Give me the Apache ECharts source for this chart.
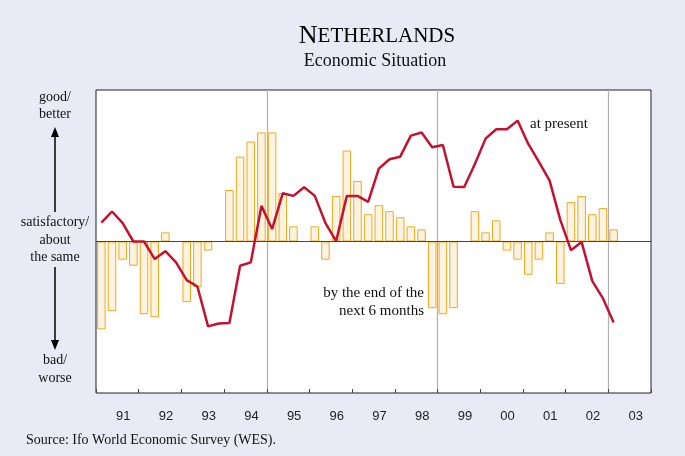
<!DOCTYPE html>
<html><head><meta charset="utf-8">
<script src="https://cdn.jsdelivr.net/npm/echarts@6/dist/echarts.min.js"></script>
<style>html,body{margin:0;padding:0;background:#E8EBF6;}#c{width:685px;height:456px;}</style>
</head><body><div id="c"></div>
<script>
// Quarterly categories 1991Q1 .. 2003Q4
var years = ['91','92','93','94','95','96','97','98','99','00','01','02','03'];
var quarters = [];
years.forEach(function(y){ for (var q=1;q<=4;q++) quarters.push(y+'Q'+q); });

// Expectations: by the end of the next 6 months (bars)
var expectations = [-58,-46,-12,-16,-48,-50,6,null,-40,-30,-6,null,
  34,56,66,72,72,32,10,null,10,-12,30,60,
  40,18,24,20,16,10,8,-44,-48,-44,null,20,
  6,14,-6,-12,-22,-12,6,-28,26,30,18,22,
  8];
// Present situation (line)
var present = [12.5,19.8,12.1,0,0,-11.6,-6.4,-13.8,-25.5,-29.7,-56,-54.1,
  -53.8,-16,-13.8,23.5,8.2,31.9,30.1,35.8,30.1,12.1,0.2,30.1,
  30.1,26.2,48.1,54.3,56,69.9,71.9,62.2,63.7,36.1,36,51.2,
  67.9,74.1,74.1,79.8,64.4,52.5,40.2,14.3,-5.7,-0.4,-26.2,-37.6,
  -53.4];

var serif = '"Liberation Serif","DejaVu Serif",serif';
var chart = echarts.init(document.getElementById('c'));
var G = {left:96, top:90, width:555, height:303};

function arrowUp(x, yTip, yEnd){
  return [
    {type:'line', shape:{x1:x,y1:yTip+8,x2:x,y2:yEnd}, style:{stroke:'#000',lineWidth:1.5}},
    {type:'polygon', shape:{points:[[x,yTip],[x-4,yTip+10],[x+4,yTip+10]]}, style:{fill:'#000'}}
  ];
}
function arrowDown(x, yStart, yTip){
  return [
    {type:'line', shape:{x1:x,y1:yStart,x2:x,y2:yTip-8}, style:{stroke:'#000',lineWidth:1.5}},
    {type:'polygon', shape:{points:[[x,yTip],[x-4,yTip-10],[x+4,yTip-10]]}, style:{fill:'#000'}}
  ];
}
function label(text, x, y, align, size){
  return {type:'text', x:x, y:y, style:{text:text, fill:'#111', font: (size||14)+'px '+serif, textAlign:align||'center', textVerticalAlign:'middle'}};
}

var graphics = [
  {type:'text', x:377, y:36, style:{
     rich:{a:{fontSize:26,fontFamily:serif,fill:'#000'}, b:{fontSize:21,fontFamily:serif,fill:'#000'}},
     text:'{a|N}{b|ETHERLANDS}', textAlign:'center', textVerticalAlign:'middle'}},
  label('Economic Situation', 375, 61, 'center', 18),
  label('good/', 55, 97), label('better', 55, 114),
  label('satisfactory/', 55, 222), label('about', 55, 240), label('the same', 55, 257),
  label('bad/', 55, 360), label('worse', 55, 378),
  label('at present', 530, 124, 'left', 15),
  label('by the end of the', 424, 293, 'right', 15),
  label('next 6 months', 424, 311, 'right', 15),
  label('Source: Ifo World Economic Survey (WES).', 26, 440, 'left', 14)
].concat(arrowUp(55,127,212)).concat(arrowDown(55,267,350));

chart.setOption({
  backgroundColor:'#E8EBF6',
  animation:false,
  grid:{left:G.left, top:G.top, width:G.width, height:G.height, show:true, backgroundColor:'#fff', borderColor:'#222', borderWidth:1},
  xAxis:[
    {type:'category', data:quarters, boundaryGap:true, position:'bottom',
     axisLine:{show:true, onZero:true, lineStyle:{color:'#444', width:1}},
     axisTick:{show:false}, axisLabel:{show:false}, splitLine:{show:false}, z:5},
    {type:'category', data:years, boundaryGap:true, position:'bottom',
     axisLine:{show:false}, axisTick:{show:true, inside:true, length:4, lineStyle:{color:'#444'}},
     axisLabel:{show:true, margin:17, fontFamily:'"Liberation Sans",Arial,sans-serif', fontSize:13, color:'#222', padding:[0,0,0,12]},
     splitLine:{show:false}},
    {type:'value', min:0, max:52, interval:16, position:'bottom', show:true,
     axisLine:{show:false}, axisTick:{show:false}, axisLabel:{show:false},
     splitLine:{show:true, showMinLine:false, showMaxLine:false, lineStyle:{color:'#b0b0b0', width:1.2}}}
  ],
  yAxis:{type:'value', min:-100, max:100, show:false, splitLine:{show:false}},
  series:[
    {type:'bar', xAxisIndex:0, data:expectations, barCategoryGap:'20%',
     itemStyle:{color:'#FCF3E2', borderColor:'#F2A81D', borderWidth:1}, z:2},
    {type:'line', xAxisIndex:0, data:present, symbol:'none', connectNulls:true,
     lineStyle:{color:'#C1132F', width:2.5}, z:6}
  ],
  graphic:graphics
});
</script></body></html>
